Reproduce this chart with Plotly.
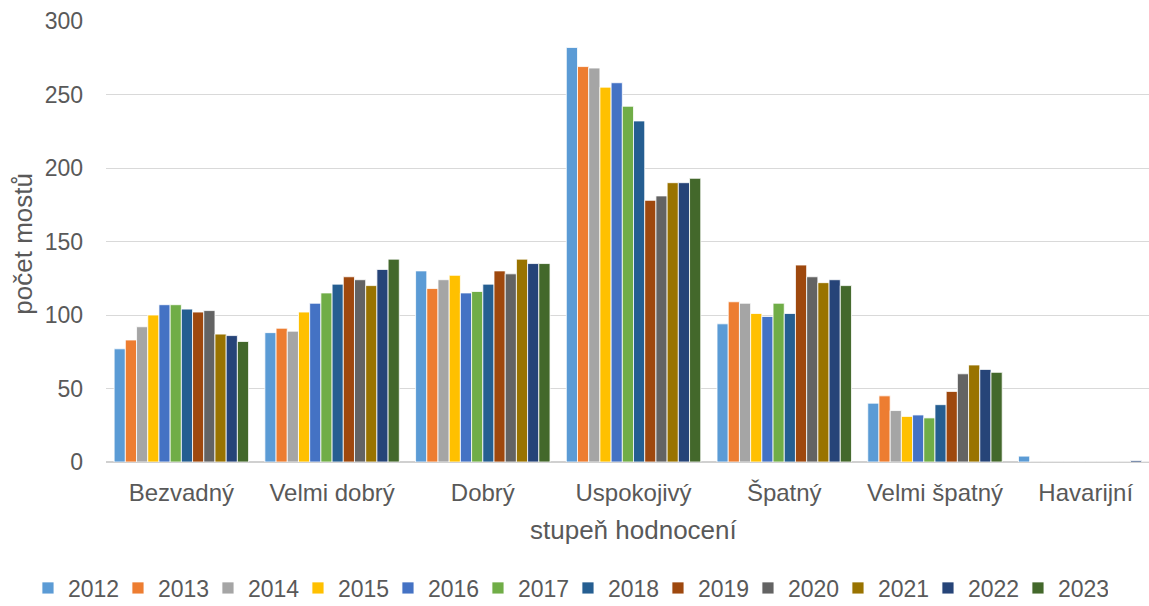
import plotly.graph_objects as go

# Hodnocení stavu mostů podle stupně, roky 2012–2023
categories = ["Bezvadný", "Velmi dobrý", "Dobrý", "Uspokojivý", "Špatný", "Velmi špatný", "Havarijní"]
years = ["2012", "2013", "2014", "2015", "2016", "2017", "2018", "2019", "2020", "2021", "2022", "2023"]

v2012 = [77, 88, 130, 282, 94, 40, 4]
v2013 = [83, 91, 118, 269, 109, 45, 0]
v2014 = [92, 89, 124, 268, 108, 35, 0]
v2015 = [100, 102, 127, 255, 101, 31, 0]
v2016 = [107, 108, 115, 258, 99, 32, 0]
v2017 = [107, 115, 116, 242, 108, 30, 0]
v2018 = [104, 121, 121, 232, 101, 39, 0]
v2019 = [102, 126, 130, 178, 134, 48, 0]
v2020 = [103, 124, 128, 181, 126, 60, 0]
v2021 = [87, 120, 138, 190, 122, 66, 0]
v2022 = [86, 131, 135, 190, 124, 63, 1]
v2023 = [82, 138, 135, 193, 120, 61, 0]

series = [v2012, v2013, v2014, v2015, v2016, v2017, v2018, v2019, v2020, v2021, v2022, v2023]

colors = ["#5B9BD5", "#ED7D31", "#A5A5A5", "#FFC000", "#4472C4", "#70AD47",
          "#255E91", "#9E480E", "#636363", "#997300", "#264478", "#43682B"]

font_family = "Liberation Sans, Arial, sans-serif"
text_color = "#595959"
tick_size = 23
xtick_size = 24
title_size = 26

fig = go.Figure()
for year, vals, col in zip(years, series, colors):
    fig.add_trace(go.Bar(
        name=year, x=categories, y=vals,
        marker=dict(color=col, line=dict(color="white", width=0.8)),
    ))

fig.update_layout(
    width=1149, height=606,
    margin=dict(l=106, r=0, t=21, b=144, autoexpand=False),
    paper_bgcolor="white", plot_bgcolor="white",
    barmode="group", bargap=0.108, bargroupgap=0,
    font=dict(family=font_family, size=tick_size, color=text_color),
    showlegend=True,
    legend=dict(
        orientation="h", x=-0.0748, xanchor="left", y=-0.2857, yanchor="middle",
        font=dict(size=tick_size, color=text_color),
        itemwidth=30, tracegroupgap=0,
        entrywidth=45, entrywidthmode="pixels",
    ),
    xaxis=dict(
        type="category", range=[-0.5, 6.42],
        showgrid=False, showline=False, zeroline=False,
        ticks="", ticklabelstandoff=14, automargin=False,
        tickfont=dict(size=xtick_size, color=text_color),
    ),
    yaxis=dict(
        range=[0, 300], dtick=50, tick0=0,
        showgrid=True, gridcolor="#D9D9D9", gridwidth=1.3,
        zeroline=True, zerolinecolor="#D0D0D0", zerolinewidth=2,
        showline=False, ticks="", ticklabelstandoff=22, automargin=False,
        tickfont=dict(size=tick_size, color=text_color),
    ),
    annotations=[
        dict(text="stupeň hodnocení", xref="paper", yref="paper",
             x=0.506, y=-0.155, xanchor="center", yanchor="middle",
             showarrow=False, font=dict(size=title_size, color=text_color)),
        dict(text="počet mostů", xref="paper", yref="paper",
             x=-0.0796, y=0.495, xanchor="center", yanchor="middle",
             textangle=-90, showarrow=False, font=dict(size=title_size, color=text_color)),
    ],
)

fig.write_html("out.html")
